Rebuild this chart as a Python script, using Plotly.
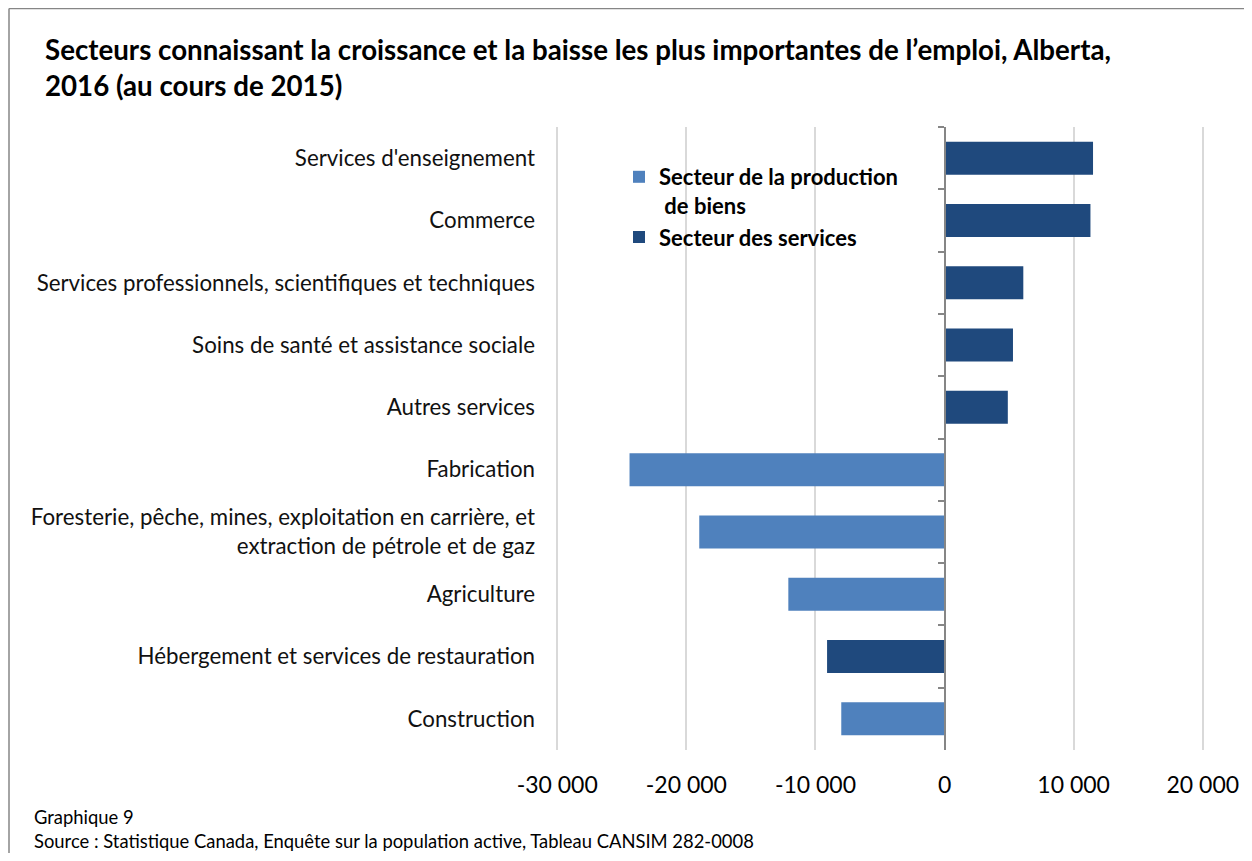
import plotly.graph_objects as go

categories = [
    "Services d'enseignement",
    "Commerce",
    "Services professionnels, scientifiques et techniques",
    "Soins de santé et assistance sociale",
    "Autres services",
    "Fabrication",
    "Foresterie, pêche, mines, exploitation en carrière, et<br>extraction de pétrole et de gaz",
    "Agriculture",
    "Hébergement et services de restauration",
    "Construction",
]
production = [None, None, None, None, None, -24400, -19000, -12100, None, -8000]
services = [11500, 11300, 6100, 5300, 4900, None, None, None, -9100, None]

x_tickvals = [-30000, -20000, -10000, 0, 10000, 20000]
x_ticktext = ["-30 000", "-20 000", "-10 000", "0", "10 000", "20 000"]
x_range = [-30250, 20250]

name_prod = "<b>Secteur de la production<br> de biens</b>"
name_serv = "<b>Secteur des services</b>"

FONT = "Lato, Open Sans, sans-serif"
col_prod = "#4F81BD"
col_serv = "#1F497D"

W, H = 1236, 845
# inner (-30000..20000) spans 549..1195 in figure pixels; range padded slightly
scale = 646 / 50000
L = round(549 - (x_range[0] - -30000) * -scale)
PW = round((x_range[1] - x_range[0]) * scale)
T, PH = 119, 623
R = W - L - PW
B = H - T - PH


def px_x(x):
    return (x - L) / PW


def px_y(y):
    return (T + PH - y) / PH


fig = go.Figure()
fig.add_trace(go.Bar(y=categories, x=production, orientation="h", name=name_prod,
                     marker=dict(color=col_prod, line=dict(width=0)), width=0.53))
fig.add_trace(go.Bar(y=categories, x=services, orientation="h", name=name_serv,
                     marker=dict(color=col_serv, line=dict(width=0)), width=0.53))
# invisible trace on secondary y axis (axis line at zero with boundary ticks)
fig.add_trace(go.Bar(y=categories, x=[0] * len(categories), orientation="h", yaxis="y2",
                     showlegend=False, hoverinfo="skip", marker=dict(color="rgba(0,0,0,0)")))

zero_pos = (0 - x_range[0]) / (x_range[1] - x_range[0])

fig.update_layout(
    width=W, height=H,
    margin=dict(l=L, r=R, t=T, b=B, autoexpand=False),
    paper_bgcolor="white", plot_bgcolor="white",
    barmode="overlay",
    font=dict(family=FONT, color="#000000"),
    title=dict(
        text="<b>Secteurs connaissant la croissance et la baisse les plus importantes de l’emploi, Alberta,<br>2016 (au cours de 2015)</b>",
        x=37 / W, xref="container", xanchor="left",
        y=1 - 52 / H, yref="container", yanchor="top",
        font=dict(size=27.7, family=FONT, color="#000000"),
    ),
    xaxis=dict(
        range=x_range, tickvals=x_tickvals, ticktext=x_ticktext,
        showgrid=True, gridcolor="#D9D9D9", gridwidth=2,
        zeroline=False, showline=False, ticks="",
        ticklabelstandoff=19,
        tickfont=dict(size=23, family=FONT, color="#000000"),
    ),
    yaxis=dict(
        autorange="reversed", type="category",
        showgrid=False, zeroline=False, showline=False, ticks="",
        ticklabelstandoff=21 - (549 - L),
        tickfont=dict(size=22.3, family=FONT, color="#111111"),
    ),
    yaxis2=dict(
        overlaying="y", matches="y", anchor="free", position=zero_pos, side="left",
        type="category", autorange="reversed",
        showline=True, linecolor="#868686", linewidth=2,
        ticks="outside", tickson="boundaries", ticklen=6, tickcolor="#868686", tickwidth=2,
        showticklabels=False, showgrid=False, zeroline=False,
    ),
    legend=dict(
        x=px_x(611), y=px_y(148), xanchor="left", yanchor="top",
        bgcolor="rgba(0,0,0,0)", traceorder="normal", valign="top",
        font=dict(size=22, family=FONT, color="#000000"),
        itemwidth=30, tracegroupgap=0,
    ),
    showlegend=True,
)

fig.add_annotation(
    text="Graphique 9<br>Source : Statistique Canada, Enquête sur la population active, Tableau CANSIM 282-0008",
    xref="paper", yref="paper", x=px_x(24), y=px_y(796),
    xanchor="left", yanchor="top", align="left", showarrow=False,
    font=dict(size=18.4, family=FONT, color="#000000"),
)

# outer frame (left and top edges)
fig.add_shape(type="line", xref="paper", yref="paper",
              x0=px_x(1), x1=px_x(1), y0=px_y(0.5), y1=px_y(H),
              line=dict(color="#868686", width=1.5))
fig.add_shape(type="line", xref="paper", yref="paper",
              x0=px_x(1), x1=px_x(W), y0=px_y(0.5), y1=px_y(0.5),
              line=dict(color="#868686", width=1.5))

fig.write_html("out.html")
